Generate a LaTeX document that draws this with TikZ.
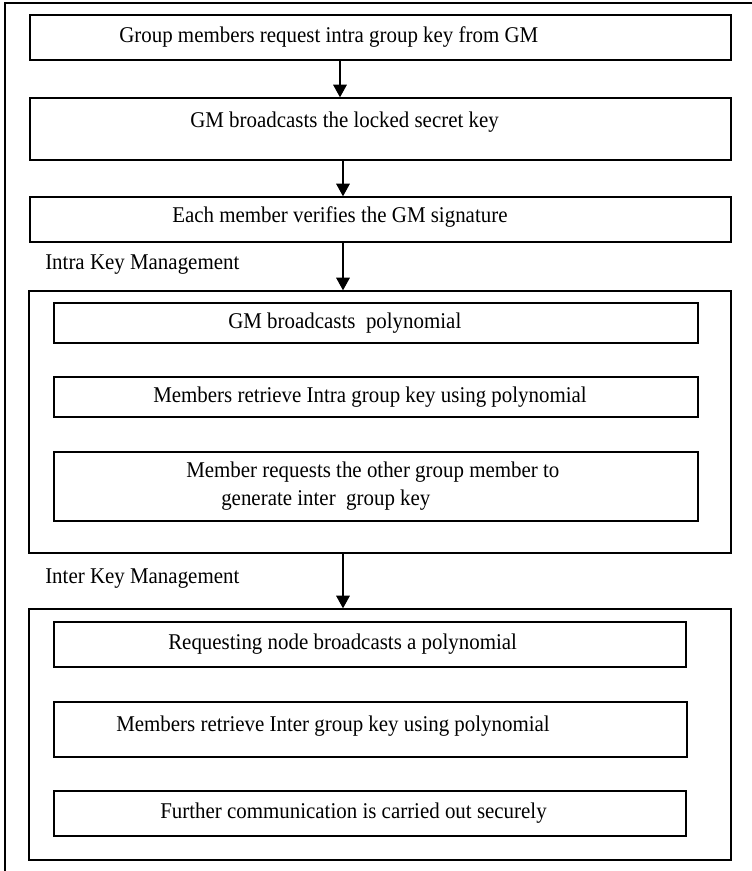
\documentclass[tikz,border=0pt]{standalone}
\usepackage{fontspec}
\setmainfont[FakeStretch=0.93]{Liberation Serif}
\usetikzlibrary{arrows.meta,fit}

\tikzset{
    stepbox/.style={draw, line width=0.9pt, inner sep=0pt},
    steptext/.style={anchor=mid west, inner sep=0pt, font=\fontsize{16pt}{19pt}\selectfont},
    flow/.style={line width=1.4pt, -{Triangle[width=9.5pt,length=9pt]}}
}

\begin{document}
\begin{tikzpicture}[x=0.025cm, y=-0.025cm]
    \useasboundingbox (0,0) rectangle (752,871);

    % outer frame
    \draw[line width=1.2pt] (5,871) -- (5,3) -- (752,3);

    % top chain
    \node[stepbox, fit={(30,15) (731,60)}] (req) {};
    \node[stepbox, fit={(30,98) (731,160)}] (bcast) {};
    \node[stepbox, fit={(30,197) (731,242)}] (verify) {};
    \node[steptext] (reqtxt) at (119,39) {Group members request intra group key from GM};
    \node[steptext] (bcasttxt) at (190,124) {GM broadcasts the locked secret key};
    \node[steptext] (verifytxt) at (172,219) {Each member verifies the GM signature};

    % intra key management
    \node[steptext] (intralbl) at (45,266) {Intra Key Management};
    \node[stepbox, fit={(29,291) (731,553)}] (intra) {};
    \node[stepbox, fit={(54,303) (698,343)}] (poly) {};
    \node[stepbox, fit={(54,377) (698,417)}] (retra) {};
    \node[stepbox, fit={(54,452) (698,521)}] (ask) {};
    \node[steptext] (polytxt) at (228,325) {GM broadcasts\ \ polynomial};
    \node[steptext] (retratxt) at (153,399) {Members retrieve Intra group key using polynomial};
    \node[steptext] (asktxt) at (186,474) {Member requests the other group member to};
    \node[steptext] (asktxtb) at (221,502) {generate inter\ \ group key};

    % inter key management
    \node[steptext] (interlbl) at (45,580) {Inter Key Management};
    \node[stepbox, fit={(29,609) (731,860)}] (inter) {};
    \node[stepbox, fit={(54,622) (686,667)}] (rbcast) {};
    \node[stepbox, fit={(54,702) (687,757)}] (reter) {};
    \node[stepbox, fit={(54,791) (686,836)}] (secure) {};
    \node[steptext] (rbcasttxt) at (168,646) {Requesting node broadcasts a polynomial};
    \node[steptext] (retertxt) at (116,728) {Members retrieve Inter group key using polynomial};
    \node[steptext] (securetxt) at (160,815) {Further communication is carried out securely};

    % arrows
    \coordinate (xa) at (340,0);
    \coordinate (xb) at (343,0);
    \draw[flow] (req.south -| xa) -- (bcast.north -| xa);
    \draw[flow] (bcast.south -| xb) -- (verify.north -| xb);
    \draw[flow] (verify.south -| xb) -- (intra.north -| xb);
    \draw[flow] (intra.south -| xb) -- (inter.north -| xb);
\end{tikzpicture}
\end{document}
